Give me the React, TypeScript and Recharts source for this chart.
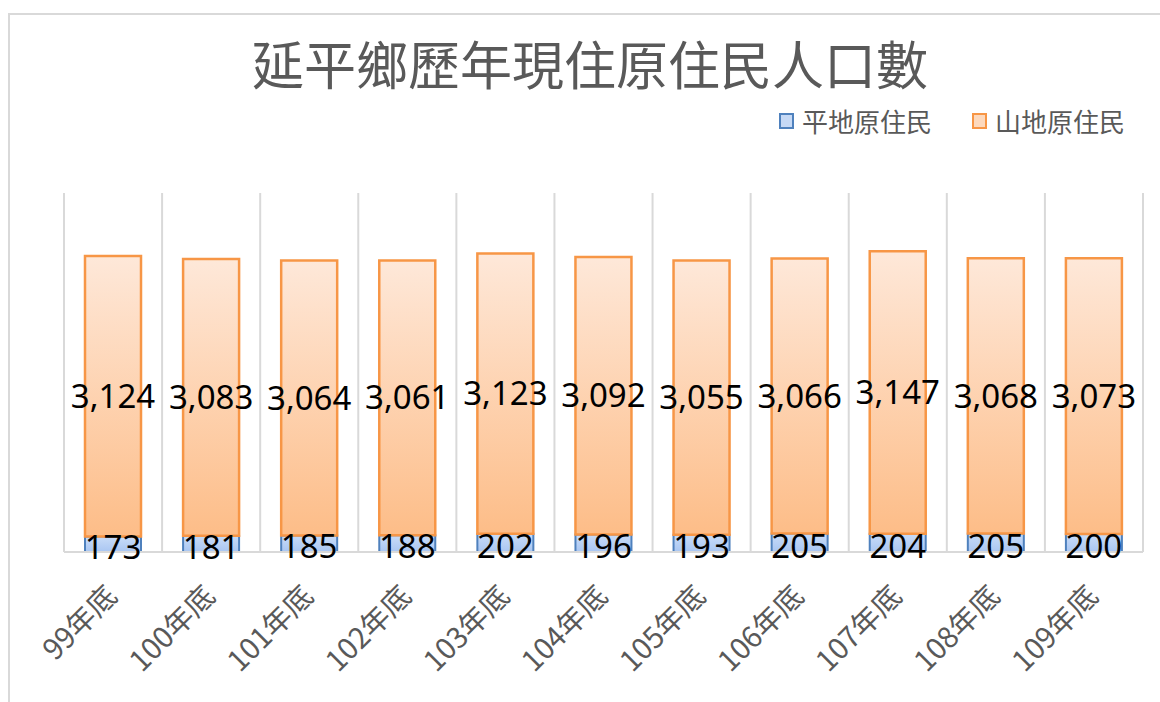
import { Bar, BarChart, CartesianGrid, LabelList, XAxis, YAxis } from "recharts"

// 延平鄉歷年現住原住民人口數
const years = ["99年底", "100年底", "101年底", "102年底", "103年底", "104年底", "105年底", "106年底", "107年底", "108年底", "109年底"]
const plains = [173, 181, 185, 188, 202, 196, 193, 205, 204, 205, 200]
const mountain = [3124, 3083, 3064, 3061, 3123, 3092, 3055, 3066, 3147, 3068, 3073]

const data = years.map((name, i) => ({ name, plains: plains[i], mountain: mountain[i] }))

const gray = "#595959"
const fmt = (v: any) => Number(v).toLocaleString("en-US")

const XTick = ({ x, y, payload }: any) => {
  const ax = x + 6
  const ay = y + 38
  return (
    <text
      x={ax}
      y={ay}
      textAnchor="end"
      transform={`rotate(-45, ${ax}, ${ay})`}
      fontSize={29}
      fill={gray}
      fontFamily="'Noto Sans CJK TC', 'Noto Sans'"
    >
      {payload.value}
    </text>
  )
}

const legendItems = [
  { label: "平地原住民", stroke: "#4F81BD", fill: "#c6d9f5" },
  { label: "山地原住民", stroke: "#F79646", fill: "#fdd9bd" },
]

// category boundaries instead of tick centres
const boundaryLines = ({ offset }: any) => {
  const n = years.length
  const out: number[] = []
  for (let i = 0; i <= n; i++) out.push(offset.left + (offset.width * i) / n)
  return out
}

export default function App() {
  return (
    <div style={{ position: "relative", width: 1160, height: 702, overflow: "hidden", background: "#fff" }}>
      <style>{"body{margin:0}"}</style>
      <div
        style={{
          position: "absolute",
          left: 8,
          top: 13,
          width: 1170,
          height: 720,
          borderLeft: "2px solid #d9d9d9",
          borderTop: "2px solid #d9d9d9",
        }}
      />
      <div
        style={{
          position: "absolute",
          left: 0,
          width: 1180,
          top: 31,
          textAlign: "center",
          fontFamily: "'Noto Sans CJK TC'",
          fontSize: 52,
          lineHeight: "64px",
          color: gray,
        }}
      >
        延平鄉歷年現住原住民人口數
      </div>
      <div
        style={{
          position: "absolute",
          left: 779,
          top: 105,
          display: "flex",
          gap: 40,
          fontFamily: "'Noto Sans CJK TC'",
          fontSize: 26,
          color: gray,
          lineHeight: "32px",
        }}
      >
        {legendItems.map((it) => (
          <div key={it.label} style={{ display: "flex", alignItems: "center" }}>
            <span
              style={{
                display: "inline-block",
                width: 11,
                height: 12,
                border: `2px solid ${it.stroke}`,
                background: it.fill,
                marginRight: 8,
              }}
            />
            {it.label}
          </div>
        ))}
      </div>
      <div style={{ position: "absolute", left: 0, top: 0 }}>
        <BarChart
          width={1160}
          height={702}
          data={data}
          margin={{ top: 193, right: 17, bottom: 10, left: 64 }}
          barSize={56}
        >
          <defs>
            <linearGradient id="gOrange" x1="0" y1="0" x2="0" y2="1">
              <stop offset="0%" stopColor="#fee8d9" />
              <stop offset="100%" stopColor="#fdbd88" />
            </linearGradient>
            <linearGradient id="gBlue" x1="0" y1="0" x2="0" y2="1">
              <stop offset="0%" stopColor="#c9dcf8" />
              <stop offset="100%" stopColor="#a9c6f2" />
            </linearGradient>
          </defs>
          <CartesianGrid horizontal={false} stroke="#d9d9d9" strokeWidth={2} verticalCoordinatesGenerator={boundaryLines} />
          <XAxis
            dataKey="name"
            height={140}
            tickLine={false}
            axisLine={{ stroke: "#d9d9d9", strokeWidth: 2 }}
            tick={<XTick />}
            interval={0}
          />
          <YAxis hide domain={[0, 4000]} />
          <Bar dataKey="plains" name="平地原住民" stackId="a" fill="url(#gBlue)" stroke="#4F81BD" strokeWidth={2} isAnimationActive={false}>
            <LabelList dataKey="plains" position="center" formatter={fmt} fontSize={33} fill="#000" fontFamily="'Noto Sans'" dy={3} />
          </Bar>
          <Bar dataKey="mountain" name="山地原住民" stackId="a" fill="url(#gOrange)" stroke="#F79646" strokeWidth={2.5} isAnimationActive={false}>
            <LabelList dataKey="mountain" position="center" formatter={fmt} fontSize={33} fill="#000" fontFamily="'Noto Sans'" />
          </Bar>
        </BarChart>
      </div>
    </div>
  )
}
